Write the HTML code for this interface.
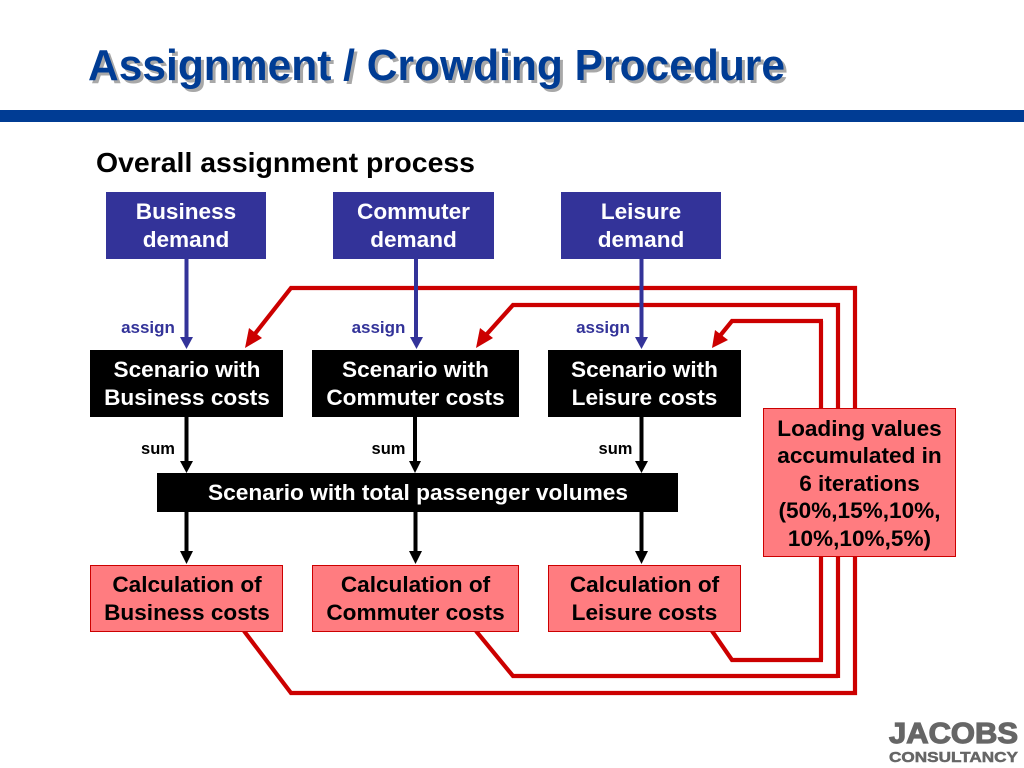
<!DOCTYPE html>
<html>
<head>
<meta charset="utf-8">
<style>
html,body{margin:0;padding:0;background:#fff;width:1024px;height:768px;overflow:hidden}
svg{display:block}
text{font-family:"Liberation Sans",Arial,sans-serif;font-weight:bold}
.w{fill:#fff;font-size:22.6px;text-anchor:middle}
.k{fill:#000;font-size:22.6px;text-anchor:middle}
.a{fill:#333399;font-size:17px;text-anchor:middle}
.s{fill:#000;font-size:16.5px;text-anchor:middle}
</style>
</head>
<body>
<svg width="1024" height="768" viewBox="0 0 1024 768" xmlns="http://www.w3.org/2000/svg">
<rect width="1024" height="768" fill="#fff"/>

<text x="91" y="83" font-size="44" fill="#a8a8a8" textLength="697" lengthAdjust="spacingAndGlyphs">Assignment / Crowding Procedure</text>
<text x="88" y="80" font-size="44" fill="#003c94" textLength="697" lengthAdjust="spacingAndGlyphs">Assignment / Crowding Procedure</text>
<rect x="0" y="110" width="1024" height="12" fill="#003c94"/>
<text x="96" y="172" font-size="28" fill="#000" textLength="379" lengthAdjust="spacingAndGlyphs">Overall assignment process</text>

<g fill="none" stroke="#cc0000" stroke-width="4.2">
<polyline points="244,631 291,693 855,693 855,557"/>
<polyline points="476,631 513,676 838,676"/>
<polyline points="712,631 732,660 823,660"/>
<line x1="821" y1="660" x2="821" y2="557"/>
<line x1="838" y1="678" x2="838" y2="557"/>
<polyline points="855,408 855,288 291,288 254,335"/>
<polyline points="838,408 838,305 513,305 486,335"/>
<line x1="821" y1="408" x2="821" y2="321"/>
<polyline points="823,321 732,321 719,337"/>
</g>
<g fill="#cc0000">
<polygon points="245,348 249,328 262,338"/>
<polygon points="476,348 480,328 493,338"/>
<polygon points="712,348 715,330 728,340"/>
</g>

<g stroke="#333399" stroke-width="4" fill="none">
<line x1="186.500" y1="259" x2="186.500" y2="338"/>
<line x1="416" y1="259" x2="416" y2="338"/>
<line x1="641.500" y1="259" x2="641.500" y2="338"/>
</g>
<g fill="#333399">
<polygon points="180,337 193,337 186.500,349"/>
<polygon points="410,337 423,337 416.500,349"/>
<polygon points="635,337 648,337 641.500,349"/>
</g>

<g stroke="#000" stroke-width="4" fill="none">
<line x1="186.500" y1="417" x2="186.500" y2="462"/>
<line x1="415" y1="417" x2="415" y2="462"/>
<line x1="641.500" y1="417" x2="641.500" y2="462"/>
<line x1="186.500" y1="512" x2="186.500" y2="553"/>
<line x1="415.500" y1="512" x2="415.500" y2="553"/>
<line x1="641.500" y1="512" x2="641.500" y2="553"/>
</g>
<g fill="#000">
<polygon points="180,461 193,461 186.500,473"/>
<polygon points="409,461 421,461 415,473"/>
<polygon points="635,461 648,461 641.500,473"/>
<polygon points="180,551 193,551 186.500,564"/>
<polygon points="409,551 422,551 415.500,564"/>
<polygon points="635,551 648,551 641.500,564"/>
</g>

<g fill="#333399">
<rect x="106" y="192" width="160" height="67"/>
<rect x="333" y="192" width="161" height="67"/>
<rect x="561" y="192" width="160" height="67"/>
</g>
<text class="w" x="186" y="219">Business</text><text class="w" x="186" y="247">demand</text>
<text class="w" x="413.500" y="219">Commuter</text><text class="w" x="413.500" y="247">demand</text>
<text class="w" x="641" y="219">Leisure</text><text class="w" x="641" y="247">demand</text>

<text class="a" x="148" y="333">assign</text>
<text class="a" x="378.500" y="333">assign</text>
<text class="a" x="603" y="333">assign</text>

<g fill="#000">
<rect x="90" y="350" width="193" height="67"/>
<rect x="312" y="350" width="207" height="67"/>
<rect x="548" y="350" width="193" height="67"/>
<rect x="157" y="473" width="521" height="39"/>
</g>
<text class="w" x="187" y="377">Scenario with</text><text class="w" x="187" y="405">Business costs</text>
<text class="w" x="415.500" y="377">Scenario with</text><text class="w" x="415.500" y="405">Commuter costs</text>
<text class="w" x="644.500" y="377">Scenario with</text><text class="w" x="644.500" y="405">Leisure costs</text>
<text class="w" x="418" y="500" textLength="420" lengthAdjust="spacingAndGlyphs" style="text-anchor:middle">Scenario with total passenger volumes</text>

<text class="s" x="158" y="454">sum</text>
<text class="s" x="388.500" y="454">sum</text>
<text class="s" x="615.500" y="454">sum</text>

<g fill="#ff7c80" stroke="#cc0000" stroke-width="1">
<rect x="90.500" y="565.500" width="192" height="66"/>
<rect x="312.500" y="565.500" width="206" height="66"/>
<rect x="548.500" y="565.500" width="192" height="66"/>
<rect x="763.500" y="408.500" width="192" height="148"/>
</g>
<text class="k" x="187" y="592">Calculation of</text><text class="k" x="187" y="620">Business costs</text>
<text class="k" x="415.500" y="592">Calculation of</text><text class="k" x="415.500" y="620">Commuter costs</text>
<text class="k" x="644.500" y="592">Calculation of</text><text class="k" x="644.500" y="620">Leisure costs</text>

<text class="k" x="859.500" y="436">Loading values</text>
<text class="k" x="859.500" y="463">accumulated in</text>
<text class="k" x="859.500" y="491">6 iterations</text>
<text class="k" x="859.500" y="518">(50%,15%,10%,</text>
<text class="k" x="859.500" y="546">10%,10%,5%)</text>

<text x="889" y="743" font-size="29" fill="#666" stroke="#666" stroke-width="1.2" textLength="129" lengthAdjust="spacingAndGlyphs">JACOBS</text>
<text x="889" y="762" font-size="15" fill="#666" stroke="#666" stroke-width="0.5" textLength="129" lengthAdjust="spacingAndGlyphs">CONSULTANCY</text>
</svg>
</body>
</html>
